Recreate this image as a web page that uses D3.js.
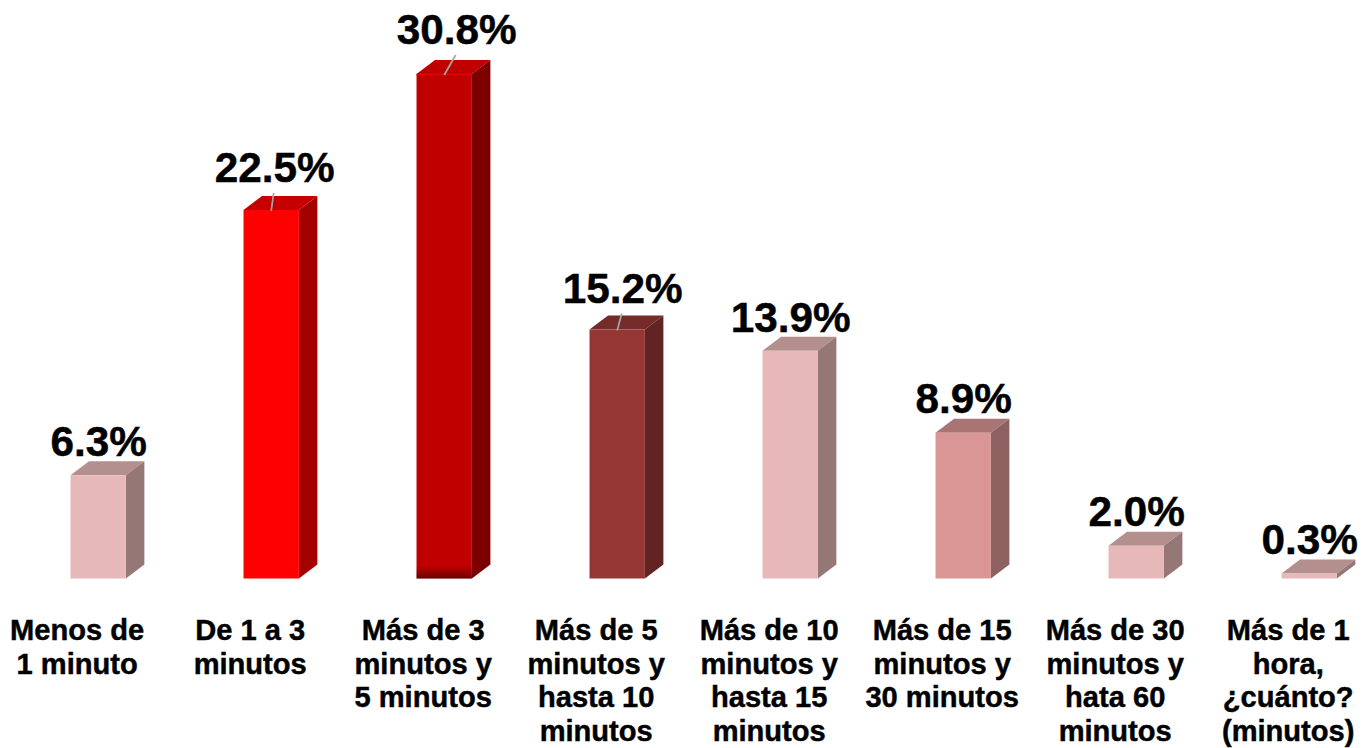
<!DOCTYPE html>
<html>
<head>
<meta charset="utf-8">
<script src="https://cdn.jsdelivr.net/npm/d3@7"></script>
<style>
  html, body { margin: 0; padding: 0; background: #fff; overflow: hidden; }
  text { font-family: "Liberation Sans", Arial, sans-serif; font-weight: bold; fill: #000; stroke: #000; stroke-width: 0.45px; }
</style>
</head>
<body>
<div id="wrapper"></div>
<script>
const categories = [
  ["Menos de", "1 minuto"],
  ["De 1 a 3", "minutos"],
  ["Más de 3", "minutos y", "5 minutos"],
  ["Más de 5", "minutos y", "hasta 10", "minutos"],
  ["Más de 10", "minutos y", "hasta 15", "minutos"],
  ["Más de 15", "minutos y", "30 minutos"],
  ["Más de 30", "minutos y", "hata 60", "minutos"],
  ["Más de 1", "hora,", "¿cuánto?", "(minutos)"]
] ;
const values = [6.3, 22.5, 30.8, 15.2, 13.9, 8.9, 2.0, 0.3] ;

const frontColors = ["#e6b8b7", "#ff0000", "#c00000", "#953735", "#e6b8b7", "#d99694", "#e6b8b7", "#e6b8b7"] ;
const topColors   = ["#b38f8e", "#c60000", "#c00000", "#742b29", "#b38f8e", "#a97574", "#b38f8e", "#b38f8e"] ;
const sideColors  = ["#957776", "#a50000", "#7c0000", "#612422", "#957776", "#8d6160", "#957776", "#957776"] ;

// the value labels were moved by hand in the original, three of them with a leader line
const labelShiftX = [0.5, 3.5, 12.5, 5.5, 0.5, 0.5, 0.5, 0.5] ;
const labelRaise  = [19, 28, 30, 27, 19, 20, 20, 20] ;
const hasLeader   = [false, true, true, true, false, false, false, false] ;

const dimensions = {
  width: 1371,
  height: 748,
  baseline: 578.5,
  depthX: 18.5,
  depthY: 14,
  labelShift: -21,
  firstLine: 640,
  lineHeight: 33.5
} ;

const svg = d3.select("#wrapper").append("svg")
    .attr("width", dimensions.width)
    .attr("height", dimensions.height)
    .style("display", "block")
;

const xScale = d3.scaleBand()
  .domain(d3.range(categories.length))
  .range([11.7, 1395.7])
  .paddingInner(0.68)
  .paddingOuter(0.34)
;

const yScale = d3.scaleLinear()
  .domain([0, 30.8])
  .range([dimensions.baseline, 74])
;

const defs = svg.append("defs") ;
const shade = defs.append("linearGradient")
    .attr("id", "floorShade")
    .attr("x1", 0).attr("x2", 0).attr("y1", 0).attr("y2", 1)
;
shade.append("stop").attr("offset", "0.975").attr("stop-color", "#000").attr("stop-opacity", 0) ;
shade.append("stop").attr("offset", "1").attr("stop-color", "#000").attr("stop-opacity", 0.45) ;

const bars = svg.selectAll("g.bar")
  .data(values)
  .enter().append("g")
    .attr("class", "bar")
;

const dx = dimensions.depthX ;
const dy = dimensions.depthY ;
const y0 = yScale(0) ;
const bw = xScale.bandwidth() ;

// top face
bars.append("path")
  .attr("fill", (d, i) => topColors[i])
  .attr("d", (d, i) => {
    const x = xScale(i), y = yScale(d) ;
    return `M${x},${y}L${x + dx},${y - dy}L${x + bw + dx},${y - dy}L${x + bw},${y}Z` ;
  })
;

// side face
bars.append("path")
  .attr("fill", (d, i) => sideColors[i])
  .attr("d", (d, i) => {
    const x = xScale(i) + bw, y = yScale(d) ;
    return `M${x},${y}L${x + dx},${y - dy}L${x + dx},${y0 - dy}L${x},${y0}Z` ;
  })
;

// front face
bars.append("rect")
  .attr("x", (d, i) => xScale(i))
  .attr("y", (d) => yScale(d))
  .attr("width", bw)
  .attr("height", (d) => y0 - yScale(d))
  .attr("fill", (d, i) => frontColors[i])
;

// darker floor and bright top edge on the tallest bar
const tallest = bars.filter((d) => d === d3.max(values)) ;
tallest.append("rect")
  .attr("x", (d) => xScale(values.indexOf(d)))
  .attr("y", (d) => yScale(d))
  .attr("width", bw)
  .attr("height", (d) => y0 - yScale(d))
  .attr("fill", "url(#floorShade)")
;
tallest.append("line")
  .attr("x1", (d) => xScale(values.indexOf(d)))
  .attr("x2", (d) => xScale(values.indexOf(d)) + bw)
  .attr("y1", (d) => yScale(d) + 0.5)
  .attr("y2", (d) => yScale(d) + 0.5)
  .attr("stroke", "#e80000")
  .attr("stroke-width", 1.5)
;

// leader lines
bars.filter((d, i) => hasLeader[i]).append("line")
  .attr("x1", (d) => xScale(values.indexOf(d)) + bw / 2)
  .attr("y1", (d) => yScale(d) + 1)
  .attr("x2", (d) => xScale(values.indexOf(d)) + bw / 2 + labelShiftX[values.indexOf(d)] - 1)
  .attr("y2", (d) => yScale(d) - labelRaise[values.indexOf(d)] + 11)
  .attr("stroke", "#a6a6a6")
  .attr("stroke-width", 1.7)
;

// value labels
svg.selectAll("text.value")
  .data(values)
  .enter().append("text")
    .attr("class", "value")
    .attr("x", (d, i) => xScale(i) + bw / 2 + labelShiftX[i])
    .attr("y", (d, i) => yScale(d) - labelRaise[i])
    .attr("text-anchor", "middle")
    .style("font-size", "42.3px")
    .text((d) => d.toFixed(1) + "%")
;

// category labels
const catLabels = svg.selectAll("text.category")
  .data(categories)
  .enter().append("text")
    .attr("class", "category")
    .attr("text-anchor", "middle")
    .style("font-size", "29.1px")
;
catLabels.each(function(lines, i) {
  d3.select(this).selectAll("tspan")
    .data(lines)
    .enter().append("tspan")
      .attr("x", xScale(i) + bw / 2 + dimensions.labelShift)
      .attr("y", (d, j) => dimensions.firstLine + j * dimensions.lineHeight)
      .text((d) => d)
  ;
}) ;
</script>
</body>
</html>
